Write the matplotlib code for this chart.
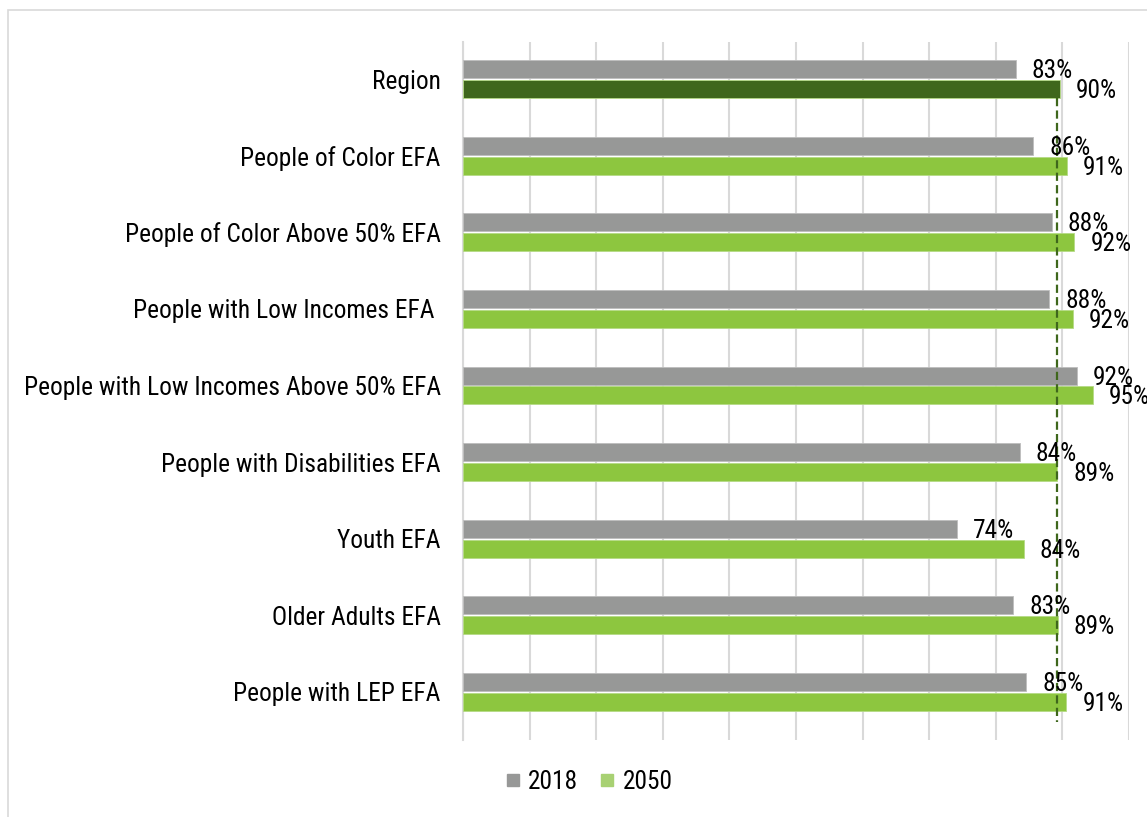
import matplotlib
matplotlib.use("Agg")
import matplotlib.pyplot as plt
from matplotlib import font_manager
from matplotlib.font_manager import FontProperties
from matplotlib.textpath import TextPath
from matplotlib.patches import Rectangle
from matplotlib.lines import Line2D
import numpy as np

categories = ["Region", "People of Color EFA", "People of Color Above 50% EFA",
              "People with Low Incomes EFA ", "People with Low Incomes Above 50% EFA",
              "People with Disabilities EFA", "Youth EFA", "Older Adults EFA",
              "People with LEP EFA"]
values_2018 = [0.830, 0.856, 0.884, 0.880, 0.922, 0.836, 0.741, 0.826, 0.846]
values_2050 = [0.896, 0.907, 0.918, 0.916, 0.946, 0.892, 0.842, 0.893, 0.906]
region_reference = 0.892
series_names = ["2018", "2050"]


def _is_condensed(f):
    st = f.stretch
    n = f.name.lower()
    if "narrow" in n or "condensed" in n:
        return True
    if isinstance(st, (int, float)):
        return st < 500
    return str(st) in ("condensed", "semi-condensed", "extra-condensed", "ultra-condensed")


def pick_font():
    entries = font_manager.fontManager.ttflist
    prio = ["liberation sans narrow", "roboto condensed", "open sans condensed",
            "noto sans", "open sans", "roboto", "noto sans display"]
    best = None
    for p in prio:
        for f in entries:
            if f.name.lower() == p and _is_condensed(f) and f.style == "normal" \
                    and f.weight in (400, "normal", "regular", "book"):
                st = f.stretch if isinstance(f.stretch, (int, float)) else 0
                key = abs(st - 300) if st else 0
                if best is None or key < best[0]:
                    best = (key, f.fname)
        if best:
            return FontProperties(fname=best[1])
    for f in entries:
        if _is_condensed(f) and f.style == "normal" and "mono" not in f.name.lower() \
                and "serif" not in f.name.lower() and "cjk" not in f.name.lower():
            return FontProperties(fname=f.fname)
    return FontProperties(family="Liberation Sans")


base_prop = pick_font()
# scale font so that the longest label spans ~413 px, as in the reference
probe = "People with Low Incomes Above 50% EFA"
w_pt = TextPath((0, 0), probe, size=10, prop=base_prop).get_extents().width
fs = 10 * (413 * 0.72) / w_pt
fs = min(fs, 20)
prop = base_prop.copy()
prop.set_size(fs)

GRAY = "#979897"
GREEN = "#8DC63F"
DKGREEN = "#3F671C"
GRID = "#D9D9D9"

W, H = 1147, 817
fig = plt.figure(figsize=(W / 100, H / 100), dpi=100)
fig.patches.append(Rectangle((8 / W, -0.1), 1.2, 1.1 - 10 / H, transform=fig.transFigure,
                             facecolor="none", edgecolor=GRID, linewidth=1.2))
ax = fig.add_axes([463 / W, 1 - 740 / H, (1129 - 463) / W, (740 - 42) / H])

y = np.arange(len(categories))
off = 0.13
h = 0.235
colors_2050 = [DKGREEN] + [GREEN] * (len(categories) - 1)
ax.barh(y - off, values_2018, height=h, color=GRAY, edgecolor="#BDBDBD", linewidth=0.6,
        label=series_names[0], zorder=3)
ax.barh(y + off, values_2050, height=h, color=colors_2050, edgecolor="#B5DA86",
        linewidth=0.6, label=series_names[1], zorder=3)

for yy, v in zip(y - off, values_2018):
    ax.annotate(f"{v*100:.0f}%", (v, yy), xytext=(16, -2), textcoords="offset pixels",
                ha="left", va="center", fontproperties=prop, color="black",
                annotation_clip=False, zorder=5)
for yy, v in zip(y + off, values_2050):
    ax.annotate(f"{v*100:.0f}%", (v, yy), xytext=(16, -2), textcoords="offset pixels",
                ha="left", va="center", fontproperties=prop, color="black",
                annotation_clip=False, zorder=5)

ax.vlines(region_reference, 0 + off + h / 2, 8.39, colors=DKGREEN, linestyles=(0, (3.7, 1.9)),
          linewidth=1.6, zorder=4)

ax.set_xlim(0, 1.0)
ax.set_ylim(len(categories) - 1 + 0.627, -0.483)
ax.set_xticks(np.arange(0, 1.01, 0.1))
ax.xaxis.grid(True, color=GRID, linewidth=1.5, zorder=0)
ax.set_axisbelow(True)
ax.tick_params(axis="x", length=0, labelbottom=False)
ax.tick_params(axis="y", length=0, pad=16)
ax.set_yticks(y)
ax.set_yticklabels(categories, fontproperties=prop)
for s in ["top", "right", "bottom"]:
    ax.spines[s].set_visible(False)
ax.spines["left"].set_color(GRID)
ax.spines["left"].set_linewidth(1.5)

handles = [Line2D([], [], marker="s", linestyle="none", markersize=8, color=GRAY),
           Line2D([], [], marker="s", linestyle="none", markersize=8, color="#A8D173")]
fig.legend(handles, series_names, loc="center", bbox_to_anchor=(589 / W, 1 - 782 / H),
           ncol=2, frameon=False, prop=prop, handlelength=0.6, handletextpad=0.3,
           columnspacing=0.85)

fig.savefig("out.png", dpi=100)
